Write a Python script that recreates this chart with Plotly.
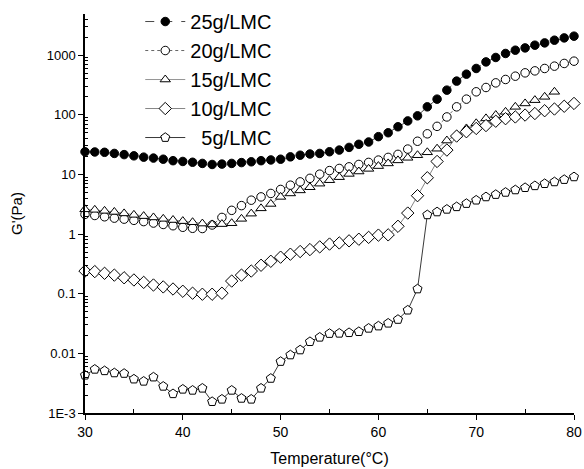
import plotly.graph_objects as go

temps = list(range(30, 81))

g25 = [24, 23.8, 23.5, 22.5, 21.5, 20.5, 19.5, 18.8, 18, 17, 16.5, 16, 15.3, 14.7, 14.9,
       15.3, 15.8, 16.3, 17, 17.5, 18, 19.7, 21, 22, 22.5, 24, 25.6, 28.4, 32, 35,
       43, 50, 63, 79, 96, 136, 183, 259, 367, 480, 598, 771, 914, 1067, 1211, 1324,
       1469, 1606, 1782, 1948, 2081]

g20 = [2.14, 2.05, 1.95, 1.85, 1.78, 1.7, 1.62, 1.53, 1.45, 1.38, 1.3, 1.25, 1.24, 1.42,
       1.9, 2.5, 3.0, 3.7, 4.2, 4.8, 5.6, 6.6, 7.5, 8.6, 10.1, 11.6, 12.6, 13.4, 14.7,
       15.9, 17.4, 19.3, 21.7, 26.6, 36, 48, 64, 92, 136, 183, 243, 287, 343, 391, 444,
       505, 545, 598, 654, 726, 793]

temps15 = list(range(30, 79))
g15 = [2.6, 2.55, 2.45, 2.35, 2.22, 2.1, 2.0, 1.9, 1.8, 1.72, 1.65, 1.58, 1.5, 1.45,
       1.47, 1.52, 1.8, 2.2, 2.7, 3.2, 4.2, 4.8, 5.4, 6.1, 7.0, 8.0, 9.0, 10.2, 11.2,
       12.4, 13.8, 15.3, 17.2, 19, 21, 23.5, 27, 37, 46, 59, 72, 87, 99, 112, 136, 155,
       176, 200, 243]

g10 = [0.24, 0.235, 0.22, 0.205, 0.185, 0.17, 0.155, 0.14, 0.13, 0.12, 0.11, 0.102,
       0.098, 0.098, 0.102, 0.163, 0.205, 0.24, 0.30, 0.35, 0.41, 0.46, 0.51, 0.55,
       0.61, 0.68, 0.71, 0.77, 0.82, 0.88, 0.96, 0.97, 1.35, 2.25, 4.4, 8.8, 16.5, 25.6,
       44, 52, 59, 66, 78, 86, 92, 99, 105, 117, 125, 139, 155]

g5 = [0.0043, 0.0054, 0.0051, 0.0047, 0.0046, 0.0037, 0.0034, 0.0040, 0.0028, 0.0021,
      0.0025, 0.0024, 0.0026, 0.00155, 0.0017, 0.0024, 0.00176, 0.0017, 0.0026, 0.0038,
      0.0073, 0.0094, 0.0114, 0.0157, 0.0186, 0.0215, 0.0217, 0.0222, 0.0231, 0.0263,
      0.0287, 0.032, 0.037, 0.053, 0.12, 2.1, 2.35, 2.6, 2.87, 3.25, 3.7, 4.2, 4.6, 5.0,
      5.5, 6.0, 6.45, 7.0, 7.5, 8.2, 9.1]

names = ["25g/LMC", "20g/LMC", "15g/LMC", "10g/LMC", "\u00a0\u00a05g/LMC"]
y_tickvals = [0.001, 0.01, 0.1, 1, 10, 100, 1000]
y_ticktext = ["1E-3", "0.01", "0.1", "1", "10", "100", "1000"]

FONT = "Arial, Liberation Sans, sans-serif"

series = [
    (temps, g25, names[0], "circle", "black", 8.5, "dash", "#333"),
    (temps, g20, names[1], "circle", "white", 8.5, "dot", "#555"),
    (temps15, g15, names[2], "triangle-up", "white", 9, "solid", "#888"),
    (temps, g10, names[3], "diamond", "white", 9.5, "solid", "#777"),
    (temps, g5, names[4], "pentagon", "white", 9.5, "solid", "#222"),
]

fig = go.Figure()
for i, (x, y, nm, sym, fill, sz, dash, lc) in enumerate(series):
    fig.add_trace(go.Scatter(
        x=x, y=y, name=nm, mode="lines+markers", legendgroup=f"g{i}",
        line=dict(color=lc, width=0.9, dash=dash),
        marker=dict(symbol=sym, size=sz, color=fill, line=dict(color="black", width=1)),
        cliponaxis=False,
    ))

minor_vals = []
for e in range(-3, 4):
    for m in range(2, 10):
        v = m * 10 ** e
        if v < 5000:
            minor_vals.append(v)

fig.update_layout(
    width=584, height=469,
    margin=dict(l=85, r=10, t=14, b=56, autoexpand=False),
    plot_bgcolor="white", paper_bgcolor="white",
    font=dict(family=FONT, color="black", size=13),
    showlegend=True,
    legend=dict(x=0.113, y=1.03, xanchor="left", yanchor="top",
                font=dict(size=20, family=FONT), bgcolor="rgba(0,0,0,0)",
                tracegroupgap=0, itemwidth=40),
    xaxis=dict(range=[30, 80], tickvals=[30, 40, 50, 60, 70, 80],
               showline=True, linecolor="black", linewidth=1.5,
               ticks="outside", ticklen=5, tickwidth=1.2, tickcolor="black",
               minor=dict(tickvals=[35, 45, 55, 65, 75], ticks="inside", ticklen=4,
                          tickcolor="black", tickwidth=1),
               showgrid=False, zeroline=False, mirror=False, automargin=False,
               tickfont=dict(size=14),
               title=dict(text="Temperature(°C)", font=dict(size=16), standoff=14)),
    yaxis=dict(type="log", range=[-3, 3.69], tickvals=y_tickvals, ticktext=y_ticktext,
               showline=True, linecolor="black", linewidth=1.5,
               ticks="outside", ticklen=5, tickwidth=1.2, tickcolor="black",
               minor=dict(tickvals=minor_vals, ticks="inside", ticklen=3,
                          tickcolor="black", tickwidth=0.8),
               showgrid=False, zeroline=False, mirror=False, automargin=False,
               tickfont=dict(size=13),
               title=dict(text="G'(Pa)", font=dict(size=15), standoff=20)),
)

fig.write_html("out.html",
               config={"displayModeBar": False},
               post_script="document.body.style.margin='0';document.body.style.overflow='hidden';")
